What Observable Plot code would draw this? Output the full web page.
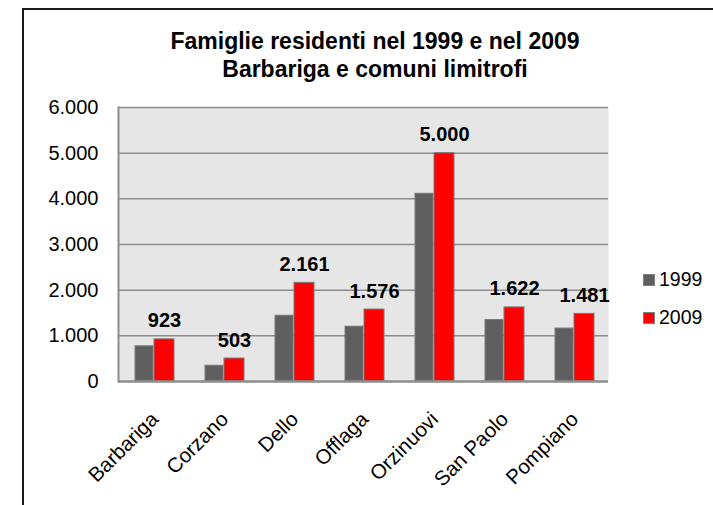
<!DOCTYPE html>
<html>
<head>
<meta charset="utf-8">
<script src="https://cdn.jsdelivr.net/npm/d3@7"></script>
<script src="https://cdn.jsdelivr.net/npm/@observablehq/plot@0.6"></script>
<style>
  html, body { margin: 0; padding: 0; background: #fff; }
  #wrap { position: relative; width: 713px; height: 505px; overflow: hidden; font-family: "Liberation Sans", Arial, sans-serif; }
  #border { position: absolute; left: 22px; top: 8px; width: 720px; height: 520px; border-left: 2px solid #1a1a1a; border-top: 2px solid #1a1a1a; box-sizing: border-box; }
  #title { position: absolute; left: 0; width: 750px; top: 27px; text-align: center; font-weight: bold; font-size: 23px; line-height: 28px; color: #000; }
  #chart { position: absolute; left: 0; top: 0; }
  .leg { position: absolute; left: 643px; font-size: 19.5px; line-height: 20px; color: #000; }
  .leg span.sw { display: inline-block; width: 12px; height: 12px; box-sizing: border-box; border: 1px solid #808080; margin-right: 4px; vertical-align: 0px; }
</style>
</head>
<body>
<div id="wrap">
  <div id="border"></div>
  <div id="chart"></div>
  <div id="title"></div>
  <div id="legend"></div>
</div>
<script>
const comuni = ["Barbariga", "Corzano", "Dello", "Offlaga", "Orzinuovi", "San Paolo", "Pompiano"];
const v1999 = [770, 345, 1440, 1200, 4110, 1345, 1160];
const v2009 = [923, 503, 2161, 1576, 5000, 1622, 1481];
const yTicks = [0, 1000, 2000, 3000, 4000, 5000, 6000];
const seriesNames = ["1999", "2009"];
const seriesColors = ["#5f5f5f", "#ff0000"];
const titleLines = ["Famiglie residenti nel 1999 e nel 2009", "Barbariga e comuni limitrofi"];

const data = comuni.map((c, i) => ({comune: c, v1999: v1999[i], v2009: v2009[i]}));
const it = d3.formatLocale({decimal: ",", thousands: ".", grouping: [3], currency: ["€", ""]});
const fmt = it.format(",d");

const chart = Plot.plot({
  width: 713,
  height: 505,
  marginLeft: 118,
  marginRight: 105,
  marginTop: 107,
  marginBottom: 124,
  style: {fontFamily: "Liberation Sans, Arial, sans-serif", color: "#000", background: "transparent"},
  x: {domain: comuni, padding: 0, axis: null},
  y: {domain: [0, 6000], axis: null},
  marks: [
    Plot.frame({fill: "#e6e6e6"}),
    Plot.ruleY(yTicks.slice(1), {stroke: "#8c8c8c", strokeWidth: 1.5}),
    Plot.barY(data, {x: "comune", y: "v1999", fill: seriesColors[0], stroke: "#7a7a7a", strokeWidth: 1, insetLeft: 17, insetRight: 35}),
    Plot.barY(data, {x: "comune", y: "v2009", fill: seriesColors[1], stroke: "#7a7a7a", strokeWidth: 1, insetLeft: 36, insetRight: 14}),
    Plot.ruleY([0], {stroke: "#8c8c8c", strokeWidth: 2.5}),
    Plot.frame({anchor: "left", stroke: "#8c8c8c", strokeWidth: 2}),
    Plot.axisY(yTicks, {tickSize: 0, tickPadding: 20, tickFormat: fmt, fontSize: 20, label: null}),
    Plot.text(data, {x: "comune", y: "v2009", text: d => fmt(d.v2009), dx: 11, dy: -12, lineAnchor: "bottom", fontWeight: "bold", fontSize: 20}),
    Plot.text(comuni, {x: d => d, frameAnchor: "bottom", rotate: -45, textAnchor: "end", dx: 6, dy: 39, fontSize: 20.5})
  ]
});
document.getElementById("chart").appendChild(chart);

document.getElementById("title").innerHTML = titleLines.join("<br>");
const leg = document.getElementById("legend");
seriesNames.forEach((s, i) => {
  const d = document.createElement("div");
  d.className = "leg";
  d.style.top = (269 + i * 38) + "px";
  d.innerHTML = `<span class="sw" style="background:${seriesColors[i]}"></span>${s}`;
  leg.appendChild(d);
});
</script>
</body>
</html>
